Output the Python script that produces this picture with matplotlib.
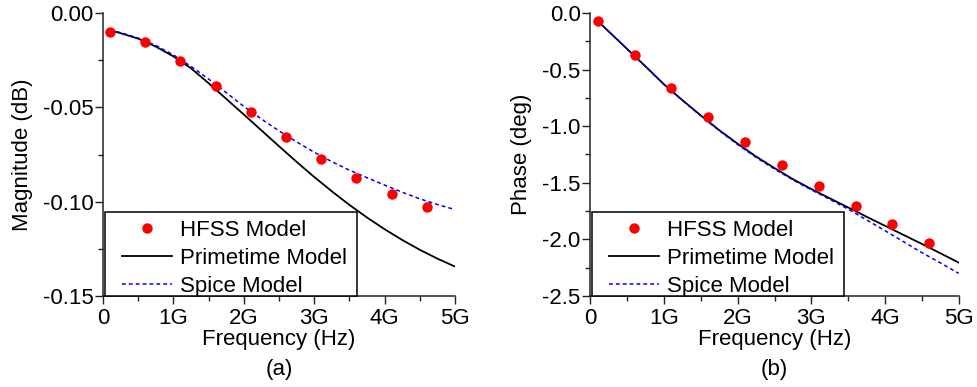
import numpy as np
import matplotlib
matplotlib.use("Agg")
import matplotlib.pyplot as plt
from matplotlib.ticker import MultipleLocator, FixedLocator, FixedFormatter
from matplotlib.patches import Rectangle

plt.rcParams['font.family'] = ['Liberation Sans', 'DejaVu Sans']

# ---- data (frequency in GHz) ----
hfss_freq = [0.1, 0.6, 1.1, 1.6, 2.1, 2.6, 3.1, 3.6, 4.1, 4.6]
hfss_mag = [-0.0103, -0.0154, -0.0257, -0.0387, -0.0525, -0.0657, -0.0773,
            -0.0872, -0.0957, -0.1029]
hfss_phase = [-0.067, -0.374, -0.660, -0.915, -1.139, -1.340, -1.524,
              -1.701, -1.866, -2.034]

model_freq = [0.1, 0.25, 0.5, 0.75, 1.0, 1.25, 1.5, 1.75, 2.0, 2.25, 2.5,
              2.75, 3.0, 3.25, 3.5, 3.75, 4.0, 4.25, 4.5, 4.75, 5.0]
prime_mag = [-0.0092, -0.0107, -0.0136, -0.0178, -0.0230, -0.0293, -0.0372,
             -0.0455, -0.0538, -0.0622, -0.0706, -0.0789, -0.0869, -0.0945,
             -0.1017, -0.1084, -0.1146, -0.1203, -0.1255, -0.1302, -0.1344]
spice_mag = [-0.0092, -0.0104, -0.0133, -0.0172, -0.0222, -0.0283, -0.0350,
             -0.0422, -0.0495, -0.0562, -0.0625, -0.0683, -0.0738, -0.0788,
             -0.0833, -0.0873, -0.0912, -0.0950, -0.0985, -0.1015, -0.1042]
prime_phase = [-0.070, -0.163, -0.318, -0.472, -0.630, -0.770, -0.905, -1.035,
               -1.155, -1.268, -1.370, -1.468, -1.555, -1.637, -1.718, -1.800,
               -1.880, -1.960, -2.040, -2.122, -2.205]
spice_phase = [-0.070, -0.163, -0.319, -0.474, -0.633, -0.773, -0.908, -1.040,
               -1.162, -1.276, -1.378, -1.475, -1.562, -1.646, -1.733, -1.828,
               -1.923, -2.020, -2.117, -2.207, -2.300]

x_ticks = [0, 1, 2, 3, 4, 5]
x_ticklabels = ['0', '1G', '2G', '3G', '4G', '5G']
mag_ticks = [0.0, -0.05, -0.10, -0.15]
mag_ticklabels = ['0.00', '-0.05', '-0.10', '-0.15']
phase_ticks = [0.0, -0.5, -1.0, -1.5, -2.0, -2.5]
phase_ticklabels = ['0.0', '-0.5', '-1.0', '-1.5', '-2.0', '-2.5']

labels = ['HFSS Model', 'Primetime Model', 'Spice Model']

W_PX = [352, 368.4]
fig = plt.figure(figsize=(9.77, 3.87), dpi=100)
ax1 = fig.add_axes([103 / 977, 1 - 296 / 387, W_PX[0] / 977, 283 / 387])
ax2 = fig.add_axes([590.3 / 977, 1 - 296 / 387, W_PX[1] / 977, 283 / 387])

FS = 16

def style(ax, yt, ytl, ylim, yminor, ylabel, tag, ylab_x):
    ax.set_xlim(0, 5)
    ax.set_ylim(*ylim)
    ax.xaxis.set_major_locator(FixedLocator(x_ticks))
    ax.xaxis.set_major_formatter(FixedFormatter(x_ticklabels))
    ax.xaxis.set_minor_locator(MultipleLocator(0.5))
    ax.yaxis.set_major_locator(FixedLocator(yt))
    ax.yaxis.set_major_formatter(FixedFormatter(ytl))
    ax.yaxis.set_minor_locator(MultipleLocator(yminor))
    for s in ['top', 'right']:
        ax.spines[s].set_visible(False)
    for s in ['left', 'bottom']:
        ax.spines[s].set_linewidth(1.1)
        ax.spines[s].set_color('#222222')
    ax.tick_params(which='major', direction='out', length=6, width=1.0,
                   labelsize=FS, color='#222222')
    ax.tick_params(which='minor', direction='out', length=3.5, width=1.0,
                   color='#222222')
    ax.tick_params(axis='y', pad=1)
    ax.tick_params(axis='x', pad=3)
    ax.set_xlabel('Frequency (Hz)', fontsize=FS)
    ax.set_ylabel(ylabel, fontsize=FS)
    ax.xaxis.set_label_coords(0.5, -44 / 283)
    ax.xaxis.label.set_va('center')
    ax.yaxis.set_label_coords(ylab_x, 0.5)
    ax.yaxis.label.set_va('center')
    ax.text(0.5, -74 / 283, tag, transform=ax.transAxes, ha='center',
            va='center', fontsize=FS)

def draw(ax, hy, py, sy, wpx, box_w):
    ax.plot(model_freq, py, color='black', lw=1.3, label=labels[1], zorder=2)
    ax.plot(model_freq, sy, color='#0000ff', lw=1.1, ls=(0, (2.5, 2)),
            label=labels[2], zorder=3)
    ax.plot(hfss_freq, hy, 'o', color='#ff0000', ms=7.5, mec='none',
            label=labels[0], zorder=4)
    # legend box
    box = Rectangle((1.5 / wpx, 0.0), box_w / wpx, 84 / 283,
                    transform=ax.transAxes, facecolor='white',
                    edgecolor='black', lw=1.1, zorder=5, clip_on=False)
    ax.add_patch(box)
    h, l = ax.get_legend_handles_labels()
    order = [2, 0, 1]
    leg = ax.legend([h[i] for i in order], [l[i] for i in order],
                    loc='lower left', bbox_to_anchor=(16.4 / wpx, -3.5 / 283),
                    borderaxespad=0, fontsize=FS, frameon=False,
                    handlelength=2.25, handletextpad=0.36, borderpad=0.1,
                    labelspacing=0.33)
    leg.set_zorder(6)

draw(ax1, hfss_mag, prime_mag, spice_mag, W_PX[0], 252)
style(ax1, mag_ticks, mag_ticklabels, (-0.15, 0.0), 0.025, 'Magnitude (dB)',
      '(a)', (23 - 103) / 352)
draw(ax2, hfss_phase, prime_phase, spice_phase, W_PX[1], 252)
style(ax2, phase_ticks, phase_ticklabels, (-2.5, 0.0), 0.25, 'Phase (deg)',
      '(b)', (522 - 590.3) / 368.4)

fig.savefig('out.png', dpi=100)
